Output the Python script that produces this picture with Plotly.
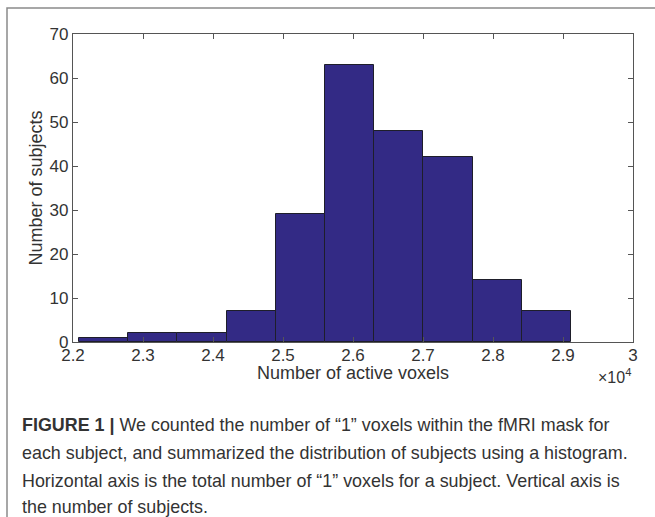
import plotly.graph_objects as go

# Histogram data (voxel counts per subject)
bin_edges = [22086, 22789, 23492, 24195, 24898, 25601, 26304, 27007, 27710, 28413, 29116]
counts = [1, 2, 2, 7, 29, 63, 48, 42, 14, 7]
x_tick_vals = [22000, 23000, 24000, 25000, 26000, 27000, 28000, 29000, 30000]
x_tick_text = ["2.2", "2.3", "2.4", "2.5", "2.6", "2.7", "2.8", "2.9", "3"]
y_tick_vals = [0, 10, 20, 30, 40, 50, 60, 70]
x_title = "Number of active voxels"
y_title = "Number of subjects"

caption_lines = [
    "<b>FIGURE 1 |</b> We counted the number of \u201c1\u201d voxels within the fMRI mask for",
    "each subject, and summarized the distribution of subjects using a histogram.",
    "Horizontal axis is the total number of \u201c1\u201d voxels for a subject. Vertical axis is",
    "the number of subjects.",
]

centers = [(a + b) / 2 for a, b in zip(bin_edges[:-1], bin_edges[1:])]
widths = [b - a for a, b in zip(bin_edges[:-1], bin_edges[1:])]

W, H = 655, 517
L, R, T, B = 73, 22, 34, 175
pw, ph = W - L - R, H - T - B

def px(xp):
    return (xp - L) / pw

def py(yp):
    return (H - B - yp) / ph

fig = go.Figure()
fig.add_trace(go.Bar(
    x=centers, y=counts, width=widths,
    marker=dict(color="#332a85", line=dict(color="#1e1e2a", width=1)),
    hoverinfo="skip",
))

font_main = "Liberation Sans, Arial, sans-serif"
axis_col = "#555555"
txt_col = "#333333"

fig.update_layout(
    width=W, height=H, autosize=False,
    margin=dict(l=L, r=R, t=T, b=B, pad=0),
    paper_bgcolor="white", plot_bgcolor="white",
    showlegend=False, bargap=0,
    font=dict(family=font_main, color=txt_col),
    xaxis=dict(
        range=[22000, 30000], tickvals=x_tick_vals, ticktext=x_tick_text,
        ticks="inside", ticklen=5, tickcolor=axis_col, tickwidth=1,
        showline=True, linecolor=axis_col, linewidth=1.2, mirror="ticks",
        showgrid=False, zeroline=False, ticklabelstandoff=-3,
        tickfont=dict(size=17, color=txt_col),
    ),
    yaxis=dict(
        range=[0, 70], tickvals=y_tick_vals,
        ticks="inside", ticklen=5, tickcolor=axis_col, tickwidth=1,
        showline=True, linecolor=axis_col, linewidth=1.2, mirror="ticks",
        showgrid=False, zeroline=False,
        tickfont=dict(size=17, color=txt_col),
        title=dict(text=y_title, font=dict(size=18, color=txt_col), standoff=2),
    ),
)

# x axis title
fig.add_annotation(
    x=0.5, y=py(373), xref="paper", yref="paper", xanchor="center", yanchor="middle",
    text=x_title, showarrow=False, font=dict(size=18, color=txt_col),
)

# multiplier label
fig.add_annotation(
    x=px(633), y=py(376), xref="paper", yref="paper", xanchor="right", yanchor="middle",
    text="\u00d710<sup>4</sup>", showarrow=False, font=dict(size=16, color=txt_col),
)

# caption
line_y = [425, 453, 481, 507]
for txt, yy in zip(caption_lines, line_y):
    fig.add_annotation(
        x=px(20), y=py(yy), xref="paper", yref="paper", xanchor="left", yanchor="middle",
        text=txt, showarrow=False, align="left",
        font=dict(size=17.9, color=txt_col, family=font_main),
    )

# frame border
fig.add_shape(
    type="path", xref="paper", yref="paper",
    path=f"M {px(7)} {py(530)} L {px(7)} {py(8)} L {px(670)} {py(8)}",
    line=dict(color="#8a8a8a", width=1.5),
)

fig.write_html("out.html")
